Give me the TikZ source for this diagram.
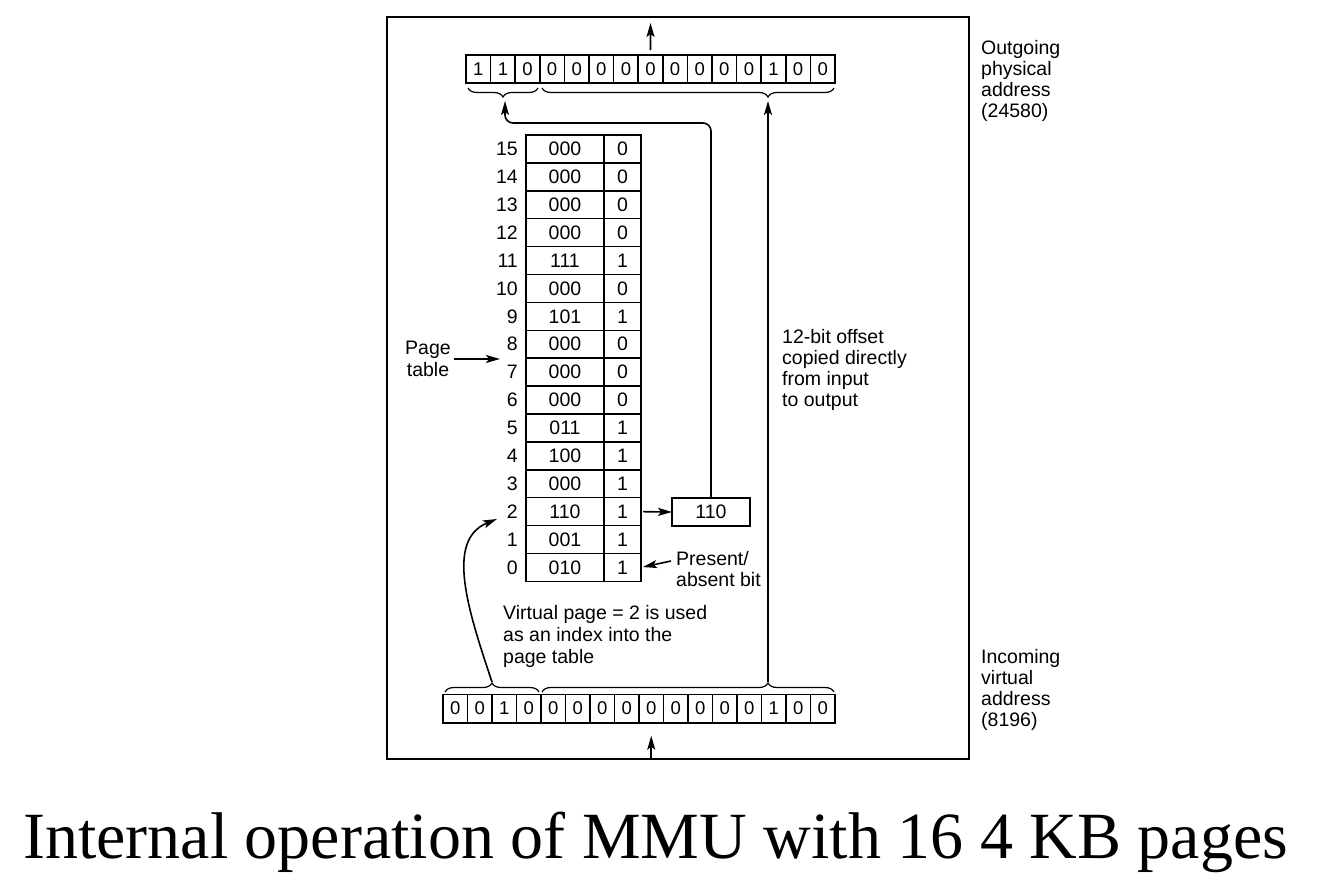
\documentclass[tikz,border=0pt]{standalone}
\usepackage{fontspec}
\setmainfont{Liberation Sans}
\newfontfamily\capfont{Liberation Serif}
\usetikzlibrary{arrows.meta,decorations.pathreplacing}
\begin{document}
\begin{tikzpicture}[x=1pt,y=-1pt,
  cellline/.style={draw, line width=1.5pt, inner sep=0pt, outer sep=0pt},
  tbit/.style={cellline, minimum width=24.6pt, minimum height=28pt, font=\fontsize{18.5}{20}\selectfont},
  bbit/.style={cellline, minimum width=24.5pt, minimum height=28.5pt, font=\fontsize{18.5}{20}\selectfont},
  frc/.style={cellline, minimum width=78pt, minimum height=27.9pt, font=\fontsize{19.5}{21}\selectfont},
  pbc/.style={cellline, minimum width=37pt, minimum height=27.9pt, font=\fontsize{19.5}{21}\selectfont},
  rowlab/.style={anchor=east, inner sep=0pt, font=\fontsize{19.5}{21}\selectfont},
  lab/.style={align=left, anchor=north west, inner sep=0pt, font=\fontsize{19.5}{21}\selectfont},
  arr/.style={line width=1.6pt, -{Stealth[length=14pt,width=8pt,inset=3pt]}},
  brc/.style={line width=1.2pt, decorate, decoration={brace, amplitude=9pt}},
]
\useasboundingbox (0,0) rectangle (1331,889);
% frame
\draw[line width=2pt] (387,17) rectangle (969,759);

% outgoing physical address
\foreach \v [count=\i from 0] in {1,1,0,0,0,0,0,0,0,0,0,0,1,0,0}
  \node[tbit] (t\i) at ({478.3+24.6*\i},69) {\v};
% incoming virtual address
\foreach \v [count=\i from 0] in {0,0,1,0,0,0,0,0,0,0,0,0,0,1,0,0}
  \node[bbit] (b\i) at ({455.25+24.5*\i},708.5) {\v};

% braces
\draw[brc, decoration={mirror}] (468,88) -- (538,88);
\draw[brc, decoration={mirror, aspect=0.774}] (542,88) -- (834,88);
\draw[brc] (445,692) -- (539,692);
\draw[brc, decoration={aspect=0.774}] (542,692) -- (834,692);
\coordinate (tb1) at (505,101);
\coordinate (tb2) at (768,101);
\coordinate (bb1) at (492,682);
\coordinate (bb2) at (768,682);

% page table
\foreach \r/\f/\p in {15/000/0,14/000/0,13/000/0,12/000/0,11/111/1,10/000/0,9/101/1,8/000/0,7/000/0,6/000/0,5/011/1,4/100/1,3/000/1,2/110/1,1/001/1,0/010/1}{
  \pgfmathsetmacro{\cy}{135+(15-\r)*27.9+13.95}
  \node[frc] (f\r) at (565,\cy) {\f};
  \node[pbc] (p\r) at (622.5,\cy) {\p};
  \node[rowlab] (l\r) at (518,\cy) {\r};
}

% 110 box
\node[cellline, minimum width=78pt, minimum height=28pt, font=\fontsize{19.5}{21}\selectfont] (box) at (711,512) {110};

% labels
\node[lab] (outlab) at (981,40) {Outgoing\\physical\\address\\(24580)};
\node[lab] (inlab) at (981,649) {Incoming\\virtual\\address\\(8196)};
\node[lab] (offlab) at (782,329) {12-bit offset\\copied directly\\from input\\to output};
\node[lab, font=\fontsize{19.5}{22}\selectfont] (vplab) at (503,605) {Virtual page = 2 is used\\as an index into the\\page table};
\node[lab, align=center, anchor=north, font=\fontsize{19.5}{22}\selectfont] (ptlab) at (428,341) {Page\\table};
\node[lab] (palab) at (676,551) {Present/\\absent bit};

% caption
\node[anchor=base west, inner sep=0pt, font=\capfont\fontsize{66}{70}\selectfont] (cap) at (23,858) {Internal operation of MMU with 16 4 KB pages};

% connectors
\coordinate (outtip) at (650.5,23);
\coordinate (inbot) at (651.25,758);
\draw[arr, shorten <=5pt] (t7.north) -- (outtip);
\draw[arr, shorten >=13pt] (inbot) -- (b8.south);
\draw[arr] (bb2) -- (tb2);
\draw[arr, shorten <=2pt] (p2.east) -- (box.west);
\draw[arr, rounded corners=8pt] (box.north) |- (505,123) -- (tb1);
\coordinate (ptgt) at (500,359);
\draw[arr, shorten <=3pt] (ptlab.east |- ptgt) -- (ptgt);
\coordinate (pa1) at (671,561);
\draw[arr, shorten >=2pt] (pa1) -- (p0.east);
\coordinate (c2) at (497,519);
\draw[arr] (bb1) .. controls (468,610) and (445,540) .. (c2);
\end{tikzpicture}
\end{document}
